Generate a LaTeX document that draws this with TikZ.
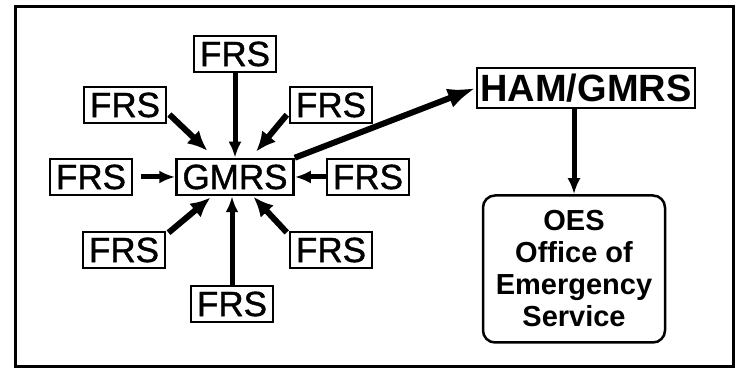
\documentclass[tikz,border=0pt]{standalone}
\usepackage{fontspec}
\setmainfont{Liberation Sans}
\newfontfamily\radiofont[FakeBold=1.2]{Liberation Sans}
\usetikzlibrary{arrows.meta}

\begin{document}
\begin{tikzpicture}[x=1pt,y=1pt,
        box/.style={draw, line width=2.5pt, inner sep=0pt, minimum height=36pt},
        frs/.style={box, minimum width=82pt, font=\radiofont\fontsize{35}{40}\selectfont},
        arr/.style={line width=5pt, -{Latex[length=16pt,width=13pt]}},
        diag/.style={line width=6pt, -{Latex[length=20pt,width=18pt]}},
        link/.style={line width=6pt, -{Latex[length=28pt,width=20pt]}}]
        \useasboundingbox (0,0) rectangle (738,369);
        \draw[line width=3pt] (15,2) rectangle (733,362);

        % Hub and the radios around it
        \node[box, minimum width=117pt, font=\radiofont\fontsize{35}{40}\selectfont] (gmrs) at (235,192) {GMRS};
        \foreach \nm/\x/\y in {t/235/315, ul/125/264, ur/331/264, l/91/192,
                               r/368/192, ll/124/119, lr/331/119, b/232/65} {
            \node[frs] (\nm) at (\x,\y) {FRS};
        }

        % Arrows into the hub
        \draw[arr] (t.south) -- (t.south |- gmrs.north);
        \draw[arr] (b.north) -- (b.north |- gmrs.south);
        \draw[arr, shorten <=8pt] (l.east) -- (gmrs.west);
        \draw[arr] (r.west) -- (gmrs.east);
        \foreach \nm/\a/\s in {ul/-10/38pt, ur/190/33pt, ll/20/32pt, lr/160/27pt} {
            \draw[diag, shorten <=3pt, shorten >=\s] (\nm.\a) -- (gmrs.center);
        }

        % Relay chain
        \node[box, minimum width=218pt, minimum height=40pt, font=\bfseries\fontsize{38}{42}\selectfont] (ham) at (586,281) {HAM/GMRS};
        \node[draw, line width=2.5pt, rounded corners=12pt, minimum width=182pt, minimum height=147pt,
              align=center, font=\bfseries\fontsize{29}{32}\selectfont] (oes) at (574,100)
              {OES\\Office of\\Emergency\\Service};
        \draw[link] (gmrs.north east) -- (ham.west);
        \draw[arr] (oes.north |- ham.south) -- (oes.north);
\end{tikzpicture}
\end{document}
